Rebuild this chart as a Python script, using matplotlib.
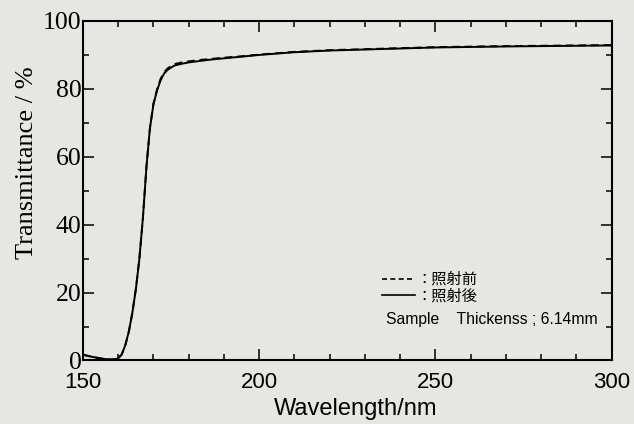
import numpy as np
import matplotlib.pyplot as plt
from matplotlib.lines import Line2D
from matplotlib.ticker import MultipleLocator

# wavelength [nm] and transmittance [%]
wavelength = [150, 152, 155, 157, 158, 159, 160, 161, 162, 163, 164, 165, 166,
              167, 168, 169, 170, 171, 172, 173, 174, 175, 176, 178, 180, 183,
              186, 190, 195, 200, 205, 210, 220, 230, 250, 270, 300]
t_after = [1.7, 1.2, 0.6, 0.35, 0.3, 0.35, 0.6, 1.8, 4.5, 8.5, 14.0, 21.0, 30.0,
           42.0, 57.0, 68.5, 75.5, 79.5, 82.5, 84.5, 85.6, 86.3, 86.9, 87.4, 87.8,
           88.2, 88.6, 89.0, 89.5, 90.0, 90.4, 90.8, 91.3, 91.6, 92.2, 92.5, 92.8]
t_before = [1.7, 1.2, 0.6, 0.35, 0.3, 0.35, 0.6, 1.8, 4.5, 8.5, 14.0, 21.0, 30.0,
            42.0, 57.0, 68.5, 75.7, 79.8, 82.9, 84.9, 86.0, 86.7, 87.3, 87.8, 88.1,
            88.5, 88.8, 89.2, 89.6, 90.1, 90.5, 90.9, 91.4, 91.7, 92.3, 92.6, 92.9]

label_before = "：照射前"
label_after = "：照射後"
note = "Sample    Thickenss ; 6.14mm"

BG = "#e6e6e3"
SERIF = "Liberation Serif"
SANS = "Liberation Sans"
JP = ["Noto Sans CJK JP", "DejaVu Sans"]

fig = plt.figure(figsize=(6.34, 4.24), dpi=100, facecolor=BG)
ax = fig.add_axes([0.1309, 0.1498, 0.8339, 0.8007], facecolor=BG)

ax.plot(wavelength, t_before, color="black", lw=1.4, ls=(0, (4, 2.5)))
ax.plot(wavelength, t_after, color="black", lw=1.4)

ax.set_xlim(150, 300)
ax.set_ylim(0, 100)
ax.xaxis.set_major_locator(MultipleLocator(50))
ax.xaxis.set_minor_locator(MultipleLocator(10))
ax.yaxis.set_major_locator(MultipleLocator(20))
ax.yaxis.set_minor_locator(MultipleLocator(10))

for s in ax.spines.values():
    s.set_linewidth(1.5)
ax.tick_params(which="both", direction="in", top=True, right=True, width=1.1)
ax.tick_params(which="major", length=8)
ax.tick_params(which="minor", length=4)
ax.tick_params(axis="y", pad=1)
ax.tick_params(axis="x", pad=8)

for lab in ax.get_yticklabels():
    lab.set_fontfamily(SERIF)
    lab.set_fontsize(18.5)
for lab in ax.get_xticklabels():
    lab.set_fontfamily(SANS)
    lab.set_fontsize(16)

ax.set_xlabel("Wavelength/nm", fontfamily=SANS, fontsize=17)
ax.xaxis.set_label_coords(0.516, -0.11)
ax.set_ylabel("Transmittance / %", fontfamily=SERIF, fontsize=19)
ax.yaxis.set_label_coords(-0.086, 0.583)

handles = [Line2D([], [], color="black", lw=1.2, ls=(0, (3, 2))),
           Line2D([], [], color="black", lw=1.2)]
leg = ax.legend(handles, [label_before, label_after], loc="upper left",
                bbox_to_anchor=(0.565, 0.264), frameon=False,
                prop={"family": JP, "size": 11}, handlelength=2.2,
                handletextpad=0.1, labelspacing=-0.05, borderpad=0,
                borderaxespad=0)

ax.text(0.573, 0.122, note, transform=ax.transAxes, fontfamily=SANS,
        fontsize=11.3, va="center", ha="left")

fig.savefig("out.png", dpi=100, facecolor=BG)
